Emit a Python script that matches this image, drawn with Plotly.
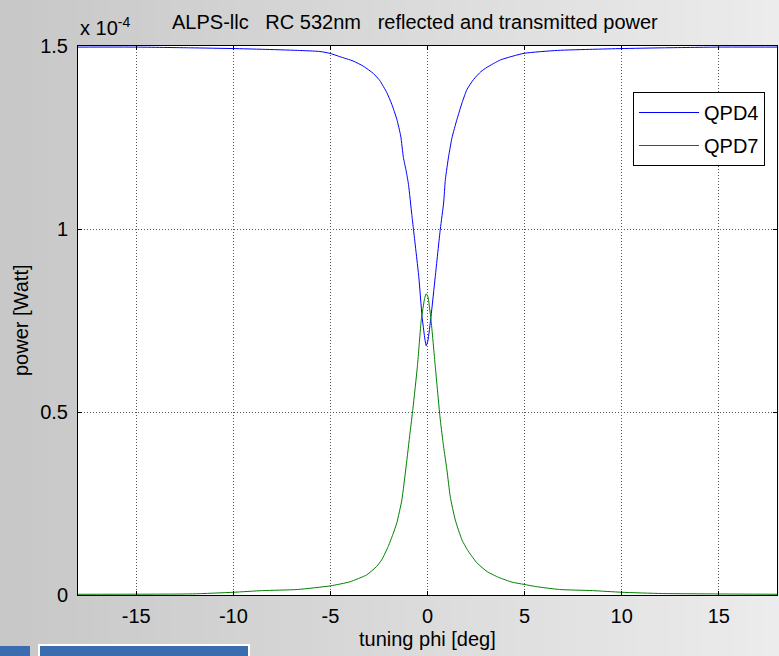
import plotly.graph_objects as go

# ---- data (power in units of 1e-4 W) ----
phi_qpd4 = [-18, -15, -12.2, -10, -8.5, -6.7, -5.54, -5.03, -4.52, -3.83, -3.31, -2.79, -2.45, -2.10,
            -1.84, -1.58, -1.38, -1.24, -1.10, -0.98, -0.81, -0.72, -0.45, -0.28, -0.15, -0.07, 0.02,
            0.18, 0.40, 0.66, 0.83, 0.92, 1.09, 1.26, 1.52, 1.78, 2.04, 2.38, 2.75, 3.07, 3.76, 4.97, 6.7,
            8.5, 10, 12.1, 15, 18]
p_qpd4 = [1.497, 1.497, 1.495, 1.493, 1.491, 1.488, 1.485, 1.480, 1.471, 1.459, 1.445, 1.425, 1.405, 1.373,
          1.341, 1.300, 1.254, 1.195, 1.159, 1.122, 1.040, 0.998, 0.870, 0.761, 0.705, 0.681, 0.695,
          0.761, 0.870, 1.000, 1.071, 1.135, 1.199, 1.249, 1.300, 1.345, 1.382, 1.409, 1.430, 1.442, 1.462,
          1.480, 1.488, 1.491, 1.493, 1.495, 1.497, 1.497]

phi_qpd7 = [-18, -12.1, -10, -8.5, -6.7, -5.0, -4.0, -3.13, -2.62, -2.36, -2.02, -1.76, -1.58, -1.32,
            -1.1, -0.9, -0.75, -0.52, -0.32, -0.15, -0.07, 0.02, 0.18, 0.40, 0.66, 0.83, 1.0, 1.17,
            1.43, 1.78, 2.12, 2.56, 3.07, 3.67, 4.36, 4.97, 5.58, 6.8, 8.5, 10, 12.1, 18]
p_qpd7 = [0.002, 0.003, 0.0075, 0.012, 0.015, 0.025, 0.036, 0.055, 0.078, 0.096, 0.133, 0.169, 0.197, 0.260,
          0.352, 0.443, 0.51, 0.625, 0.752, 0.81, 0.823, 0.815, 0.752, 0.625, 0.478, 0.405, 0.342, 0.269,
          0.205, 0.150, 0.118, 0.087, 0.064, 0.048, 0.035, 0.029, 0.023, 0.015, 0.012, 0.0075, 0.004, 0.002]

x_ticks = [-15, -10, -5, 0, 5, 10, 15]
x_ticklabels = ["-15", "-10", "-5", "0", "5", "10", "15"]
y_ticks = [0, 0.5, 1, 1.5]
y_ticklabels = ["0", "0.5", "1", "1.5"]

# ---- layout geometry ----
W, H = 779, 656
L, R, T, B = 78, 2, 46, 61
PW, PH = W - L - R, H - T - B

def px_x(px):
    return (px - L) / PW

def px_y(py):
    return (H - B - py) / PH

FONT = "Liberation Sans, Arial, sans-serif"
FS = 20

fig = go.Figure()
fig.add_trace(go.Scatter(x=phi_qpd4, y=p_qpd4, mode="lines", name="QPD4", line_shape="spline",
                         line=dict(color="#0000ff", width=1, smoothing=0.5), legendgroup="a"))
fig.add_trace(go.Scatter(x=phi_qpd7, y=p_qpd7, mode="lines", name="QPD7", line_shape="spline",
                         line=dict(color="#008000", width=1, smoothing=0.5), legendgroup="b"))

# gradient background bands + white plot area
shapes = []
N = 50
for i in range(N):
    x0 = i * W / N
    x1 = (i + 1) * W / N + 1
    t = i / (N - 1)
    c = int(200 + 36 * t)
    shapes.append(dict(type="rect", xref="paper", yref="paper",
                       x0=px_x(x0), x1=px_x(x1), y0=px_y(H), y1=px_y(0),
                       fillcolor=f"rgb({c},{c},{c})", line=dict(width=0), layer="below"))
shapes.append(dict(type="rect", xref="paper", yref="paper", x0=0, x1=1, y0=0, y1=1,
                   fillcolor="white", line=dict(width=0), layer="below"))
# blue decorative bars at the bottom-left
shapes.append(dict(type="rect", xref="paper", yref="paper",
                   x0=px_x(38), x1=px_x(250), y0=px_y(H), y1=px_y(644),
                   fillcolor="white", line=dict(width=0), layer="below"))
shapes.append(dict(type="rect", xref="paper", yref="paper",
                   x0=px_x(0), x1=px_x(30), y0=px_y(H), y1=px_y(646),
                   fillcolor="#3b6cb0", line=dict(width=0), layer="below"))
shapes.append(dict(type="rect", xref="paper", yref="paper",
                   x0=px_x(40), x1=px_x(248), y0=px_y(H), y1=px_y(646),
                   fillcolor="#3b6cb0", line=dict(width=0), layer="below"))

annotations = [
    dict(text="ALPS-llc   RC 532nm   reflected and transmitted power", xref="paper", yref="paper",
         x=px_x(415), y=px_y(22), xanchor="center", yanchor="middle", showarrow=False,
         font=dict(family=FONT, size=FS, color="black")),
    dict(text="x 10<sup>-4</sup>", xref="paper", yref="paper",
         x=px_x(78), y=px_y(26), xanchor="left", yanchor="middle", showarrow=False,
         font=dict(family=FONT, size=20, color="black")),
    dict(text="tuning phi [deg]", xref="paper", yref="paper",
         x=px_x(427), y=px_y(639), xanchor="center", yanchor="middle", showarrow=False,
         font=dict(family=FONT, size=FS, color="black")),
    dict(text="power [Watt]", xref="paper", yref="paper", textangle=-90,
         x=px_x(21), y=px_y(320), xanchor="center", yanchor="middle", showarrow=False,
         font=dict(family=FONT, size=FS, color="black")),
]

grid_dash = "1px,2px"

fig.update_layout(
    width=W, height=H,
    margin=dict(l=L, r=R, t=T, b=B),
    paper_bgcolor="#d8d8d8",
    plot_bgcolor="white",
    shapes=shapes,
    annotations=annotations,
    showlegend=True,
    legend=dict(x=px_x(765), y=px_y(92), xanchor="right", yanchor="top",
                bgcolor="white", bordercolor="black", borderwidth=1,
                font=dict(family=FONT, size=FS, color="black"),
                traceorder="grouped", tracegroupgap=4, itemwidth=60),
    xaxis=dict(range=[-18, 18], tickvals=x_ticks, ticktext=x_ticklabels, ticks="inside", ticklen=4,
               tickcolor="black", showline=True, linecolor="black", linewidth=1, mirror="ticks",
               showgrid=True, gridcolor="#555555", griddash=grid_dash, gridwidth=1, zeroline=False,
               tickfont=dict(family=FONT, size=FS, color="black"), ticklabelstandoff=3),
    yaxis=dict(range=[0, 1.5], tickvals=y_ticks, ticktext=y_ticklabels, ticks="inside", ticklen=4,
               tickcolor="black", showline=True, linecolor="black", linewidth=1, mirror="ticks",
               showgrid=True, gridcolor="#555555", griddash=grid_dash, gridwidth=1, zeroline=False,
               tickfont=dict(family=FONT, size=FS, color="black"), ticklabelstandoff=5),
)

fig.write_html("out.html", config={"displayModeBar": False},
               post_script="document.body.style.margin='0';document.body.style.padding='0';")
